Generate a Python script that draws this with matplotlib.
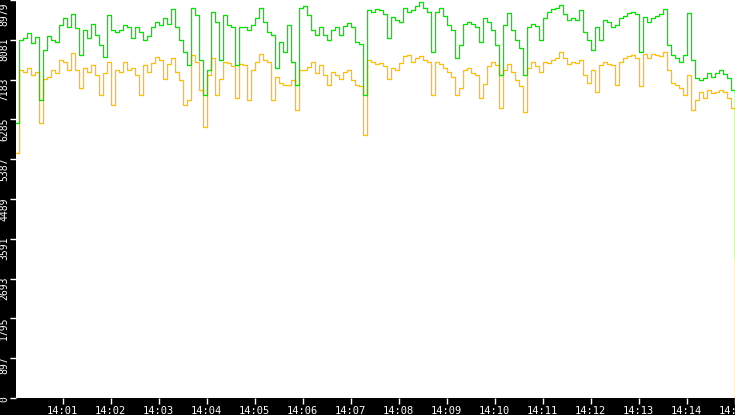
import matplotlib
matplotlib.use('Agg')
import matplotlib.pyplot as plt
import matplotlib.dates as mdates
import matplotlib.transforms as mtrans
import pandas as pd

plt.rcParams['font.family'] = ['DejaVu Sans Mono']

# one sample every 5 s from 14:00:00 to 14:15:00
green = [6204, 8077, 8122, 8235, 8009, 8144, 6723, 7851, 8167, 8077,
         8032, 8415, 8573, 8370, 8663, 8347, 7738, 8302, 8122, 8438,
         8189, 7964, 7693, 8641, 8302, 8257, 8302, 8415, 8370, 8122,
         8370, 8257, 8077, 8167, 8370, 8483, 8415, 8573, 8438, 8776,
         8370, 8077, 7806, 7513, 8798, 8641, 7625, 6836, 7400, 8708,
         8483, 7625, 8641, 8415, 8370, 7513, 8370, 8370, 8302, 8415,
         8573, 8798, 8483, 8257, 8189, 7445, 8032, 7806, 8415, 7580,
         7061, 8798, 8843, 8641, 8302, 8189, 8370, 8189, 8077, 8302,
         8370, 8189, 8393, 8460, 8370, 8032, 7986, 6836, 8753, 8708,
         8776, 8753, 8663, 8122, 8596, 8528, 8483, 8798, 8708, 8753,
         8843, 8934, 8798, 8708, 7806, 8708, 8798, 8618, 8415, 8302,
         7670, 7964, 8438, 8483, 8438, 8370, 8032, 8573, 8483, 8302,
         7964, 7287, 8415, 8686, 8302, 8077, 7896, 7287, 8370, 8438,
         8393, 8077, 8573, 8708, 8776, 8798, 8866, 8663, 8528, 8573,
         8528, 8753, 8257, 8077, 7851, 8370, 8077, 8528, 8483, 8370,
         8415, 8573, 8618, 8686, 8708, 8663, 7806, 8596, 8483, 8573,
         8618, 8663, 8776, 7964, 7738, 7670, 7580, 7738, 8686, 7625,
         7219, 7174, 7219, 7332, 7242, 7332, 7400, 7310, 7219, 6949,
         3158]
orange = [5527, 7400, 7355, 7445, 7287, 7355, 6204, 7197, 7242, 7400,
          7332, 7625, 7580, 7400, 7783, 7400, 6994, 7445, 7355, 7513,
          7287, 6836, 7332, 7580, 6610, 7400, 7355, 7580, 7400, 7445,
          7287, 6836, 7513, 7355, 7558, 7693, 7625, 7197, 7535, 7670,
          7355, 7174, 6610, 6723, 7738, 7580, 6949, 6114, 7287, 7670,
          6836, 7197, 7580, 7558, 7490, 6768, 7535, 7513, 6723, 7400,
          7580, 7761, 7625, 7580, 6723, 7242, 7107, 7061, 7061, 7174,
          6497, 7400, 7400, 7467, 7580, 7332, 7513, 7287, 7061, 7355,
          7287, 7197, 7355, 7400, 7174, 7061, 7039, 5933, 7625, 7580,
          7535, 7558, 7490, 7197, 7445, 7400, 7558, 7716, 7738, 7580,
          7670, 7716, 7625, 7580, 6836, 7580, 7535, 7445, 7355, 7242,
          6836, 6994, 7400, 7445, 7332, 7287, 6768, 7084, 7490, 7580,
          7513, 6543, 7400, 7535, 7355, 7174, 7039, 6452, 7445, 7580,
          7490, 7355, 7580, 7558, 7625, 7670, 7806, 7670, 7535, 7580,
          7558, 7625, 7287, 7107, 7400, 6904, 7513, 7580, 7535, 7513,
          7061, 7580, 7670, 7716, 7738, 7670, 7039, 7761, 7670, 7761,
          7738, 7716, 7806, 7400, 7107, 7061, 6994, 6836, 7287, 6497,
          6723, 6904, 6768, 6949, 6881, 6904, 6949, 6904, 6768, 6543,
          0]

ytick_vals = [0, 897.9, 1795.8, 2693.7, 3591.6, 4489.5, 5387.4, 6285.3, 7183.2, 8081.1, 8979]
ytick_labels = ['0', '897', '1795', '2693', '3591', '4489', '5387', '6285', '7183', '8081', '8979']

times = pd.date_range('2024-01-01 14:00:00', periods=len(green), freq='5s')

fig = plt.figure(figsize=(7.35, 4.15), dpi=100, facecolor='black')
ax = fig.add_axes([16/735, 17/415, 719/735, 398/415])
ax.set_facecolor('white')

ax.plot(times, orange, color='#ffc000', lw=0.95, drawstyle='steps-post')
ax.plot(times, green, color='#00e600', lw=0.95, drawstyle='steps-post')

for s in ax.spines.values():
    s.set_visible(False)

ax.set_xlim(times[0] + pd.Timedelta(seconds=1.6), times[0] + pd.Timedelta(seconds=900.4))
ax.set_ylim(0, 8979)
ax.xaxis.set_major_locator(mdates.MinuteLocator())
ax.xaxis.set_major_formatter(mdates.DateFormatter('%H:%M'))
ax.set_yticks(ytick_vals, ytick_labels, rotation=90, va='top')
ax.tick_params(colors='white', length=4.5, width=1)
ax.tick_params(axis='x', labelsize=7.5, pad=1)
ax.tick_params(axis='y', labelsize=7, pad=0.5)

ylabels = ax.get_yticklabels()
for i, lbl in enumerate(ylabels):
    dy = 2 if i < len(ylabels) - 1 else -2
    lbl.set_transform(lbl.get_transform() + mtrans.ScaledTranslation(0, dy/100, fig.dpi_scale_trans))

fig.savefig('out.png', dpi=100, facecolor='black')
print("Plot saved")
